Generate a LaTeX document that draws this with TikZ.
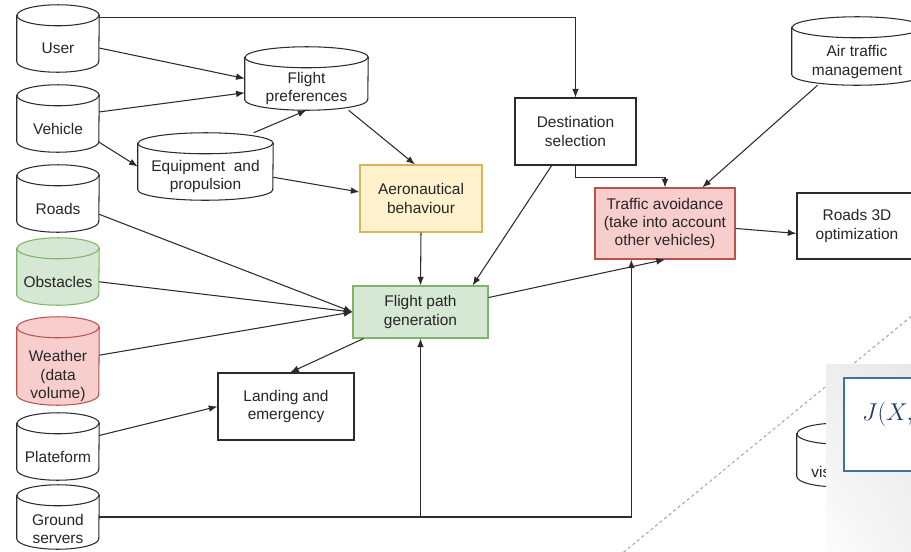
\documentclass[tikz,border=0pt]{standalone}
\usepackage{fontspec}
\setmainfont{Liberation Sans}
\usetikzlibrary{arrows.meta,shadings,calc,backgrounds}

\definecolor{lnc}{HTML}{2B2B2B}
\definecolor{greenf}{HTML}{D5E8D4}
\definecolor{greend}{HTML}{82B366}
\definecolor{redf}{HTML}{F8CECC}
\definecolor{redd}{HTML}{B85450}
\definecolor{yellowf}{HTML}{FFF2CC}
\definecolor{yellowd}{HTML}{D6B656}
\definecolor{boxblue}{HTML}{41719C}
\definecolor{mathblue}{HTML}{1F3864}

\tikzset{
  every node/.style={font=\fontsize{13.2}{15.5}\selectfont, text=black!85},
  db/.style={rectangle, inner sep=0pt, minimum width=2.46cm, minimum height=2.01cm},
  dbl/.style={label={[yshift=-0.3cm, align=center]center:#1}},
  proc/.style={rectangle, draw=lnc, line width=0.9pt, fill=white, align=center, inner sep=0pt},
  arr/.style={lnc, line width=0.9pt, -{Latex[length=2.6mm,width=2mm]}},
}

\begin{document}
\begin{tikzpicture}[x=0.03cm, y=-0.03cm]
\useasboundingbox (0,0) rectangle (911,551);
\clip (0,0) rectangle (911,551);

% data sources
\node[db, dbl=User] (user) at (58,38.5) {};
\node[db, dbl=Vehicle] (vehicle) at (58,118.5) {};
\node[db, dbl=Roads] (roads) at (58,198.5) {};
\node[db, dbl=Obstacles] (obstacles) at (58,271.5) {};
\node[db, minimum height=2.64cm,
  label={[yshift=-0.45cm, align=center]center:Weather\\(data\\volume)}] (weather) at (58,361) {};
\node[db, dbl=Plateform] (plateform) at (58,446.5) {};
\node[db, minimum height=1.92cm,
  label={[yshift=-0.36cm, align=center]center:Ground\\servers}] (ground) at (58,517) {};
\node[db, minimum width=3.69cm, minimum height=1.89cm, dbl={Flight\\preferences}] (fprefs) at (306.5,78.5) {};
\node[db, minimum width=4.05cm, dbl={Equipment~ and\\propulsion}] (equip) at (205.5,166.5) {};
\node[db, minimum width=3.9cm, minimum height=2.04cm,
  label={[yshift=-0.33cm, align=center]center:Air traffic\\management}] (atm) at (857,51) {};
\node[db, minimum height=1.9cm, dbl={Car\\visibility}] (other) at (838,455) {};

% cylinder outlines, behind the labels
\begin{scope}[on background layer]
\foreach \nm/\r/\f/\d in {user/41/white/lnc, vehicle/41/white/lnc, roads/41/white/lnc,
    obstacles/41/greenf/greend, weather/41/redf/redd, plateform/41/white/lnc,
    ground/41/white/lnc, fprefs/61.5/white/lnc, equip/67.5/white/lnc,
    atm/65/white/lnc, other/41/white/lnc} {
  \draw[draw=\d, fill=\f, line width=0.9pt]
    ($(\nm.north west)+(0,10.5)$) -- ($(\nm.south west)+(0,-10.5)$)
    arc[start angle=180, end angle=0, x radius=\r, y radius=10.5]
    -- ($(\nm.north east)+(0,10.5)$)
    arc[start angle=0, end angle=-180, x radius=\r, y radius=10.5] -- cycle;
  \draw[draw=\d, line width=0.9pt] ($(\nm.north west)+(0,10.5)$)
    arc[start angle=180, end angle=0, x radius=\r, y radius=10.5];
}
\end{scope}

% processing steps
\node[proc, fill=yellowf, draw=yellowd, minimum width=3.66cm, minimum height=2.01cm] (aero) at (421,198.5) {Aeronautical\\behaviour};
\node[proc, fill=greenf, draw=greend, minimum width=4.05cm, minimum height=1.56cm] (fpath) at (420.5,312) {Flight path\\generation};
\node[proc, minimum width=3.63cm, minimum height=2.01cm] (dest) at (575.5,131.5) {Destination\\selection};
\node[proc, fill=redf, draw=redd, minimum width=4.2cm, minimum height=2.13cm] (traffic) at (665,223.5) {Traffic avoidance\\(take into account\\other vehicles)};
\node[proc, minimum width=3.6cm, minimum height=1.98cm] (roads3d) at (857,226) {Roads 3D\\optimization};
\node[proc, minimum width=4.08cm, minimum height=2.01cm] (landing) at (286,406.5) {Landing and\\emergency};

% links
\draw[arr] (user.27) -| (dest.north);
\draw[arr] (user.-13) -- (fprefs.west);
\draw[arr] (vehicle.9) -- (fprefs.-167);
\draw[arr] (vehicle.-30) -- (equip.west);
\draw[arr] (equip.35) -- (fprefs.south);
\draw[arr] (fprefs.-37) -- (aero.100);
\draw[arr] (equip.-9) -- (aero.174);
\draw[arr] (roads.-21) -- (fpath.west);
\draw[arr] (obstacles.-14) -- (fpath.west);
\draw[arr] (weather.8) -- (fpath.west);
\draw[arr] (aero.south) -- (fpath.north);
\draw[arr] (dest.-125) -- (fpath.27);
\draw[arr] (dest.south) -- ++(0,12) -| (traffic.north);
\draw[arr] (atm.-139) -- (traffic.44);
\draw[arr] (traffic.-4) -- (roads3d.187);
\draw[arr] (fpath.12) -- (traffic.south);
\draw[arr] (fpath.-155) -- (landing.83);
\draw[arr] (plateform.15) -- (landing.west);
\draw[arr] (ground.east) -| (traffic.-133);
\draw[arr] (ground.east -| fpath.south) -- (fpath.south);

% overlay at the lower right
\draw[gray!70, line width=0.9pt, dash pattern=on 2.5pt off 2.5pt] (619,556) -- (930,301);
\shade[upper right=black!9, upper left=black!7, lower right=black!5, lower left=black!1] (826,364) rectangle (911,551);
\node[draw=boxblue, line width=1.2pt, fill=white, minimum width=3.48cm, minimum height=2.79cm, inner sep=0pt] (cost) at (902,424.5) {};
\node[anchor=west, text=mathblue, font=\fontsize{21}{24}\selectfont, inner sep=0pt] (costfn) at (862,414) {$J(X,u)$};
\end{tikzpicture}
\end{document}
